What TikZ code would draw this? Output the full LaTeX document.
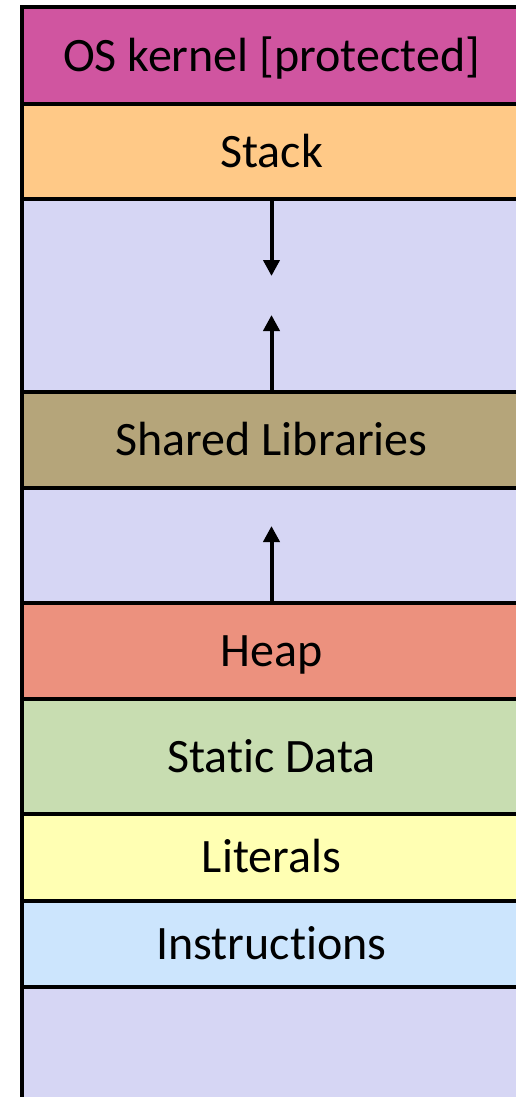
\documentclass[tikz,border=0pt]{standalone}
\usepackage{fontspec}
\setmainfont[Ligatures=NoCommon]{Carlito}
\usetikzlibrary{arrows.meta}

\definecolor{kernelc}{HTML}{D055A0}
\definecolor{stackc}{HTML}{FFC987}
\definecolor{freec}{HTML}{D6D6F4}
\definecolor{sharedc}{HTML}{B5A57A}
\definecolor{heapc}{HTML}{EC917E}
\definecolor{staticc}{HTML}{C8DDB1}
\definecolor{literalc}{HTML}{FFFFB3}
\definecolor{instrc}{HTML}{CCE5FD}

\begin{document}
\begin{tikzpicture}[x=1pt,y=-1pt,
  segment/.style={draw=black,line width=4pt,minimum width=499pt,inner sep=0pt,
    text height=31pt,text depth=0pt,font=\fontsize{48}{56}\selectfont},
  growarrow/.style={line width=4pt,-{Triangle[width=16pt,length=16pt]}}]

\useasboundingbox (0,0) rectangle (516,1097);
\fill[white] (0,0) rectangle (516,1097);

\node[segment,fill=freec,minimum height=193pt] (gapA) at (271.5,295.5) {};
\node[segment,fill=freec,minimum height=115.5pt] (gapB) at (271.5,545.25) {};
\node[segment,fill=freec,minimum height=123pt] (free) at (271.5,1048.3) {};

\node[segment,fill=kernelc,minimum height=96.5pt] (kernel) at (271.5,55.75) {OS kernel [protected]};
\node[segment,fill=stackc,minimum height=95pt] (stack) at (271.5,151.5) {Stack};
\node[segment,fill=sharedc,minimum height=95.5pt] (shared) at (271.5,439.75) {Shared Libraries};
\node[segment,fill=heapc,minimum height=96pt] (heap) at (271.5,651) {Heap};
\node[segment,fill=staticc,minimum height=115pt] (static) at (271.5,756.5) {Stat\kern0pt ic Data};
\node[segment,fill=literalc,minimum height=86.5pt] (literals) at (271.5,857.25) {Literals};
\node[segment,fill=instrc,minimum height=86.2pt] (instr) at (271.5,943.6) {Instruct\kern0pt ions};

\coordinate (stacktip) at (271.5,276);
\coordinate (sharedtip) at (271.5,315);
\coordinate (heaptip) at (271.5,526);

\draw[growarrow] (stack.south) -- (stacktip);
\draw[growarrow] (shared.north) -- (sharedtip);
\draw[growarrow] (heap.north) -- (heaptip);
\end{tikzpicture}
\end{document}
